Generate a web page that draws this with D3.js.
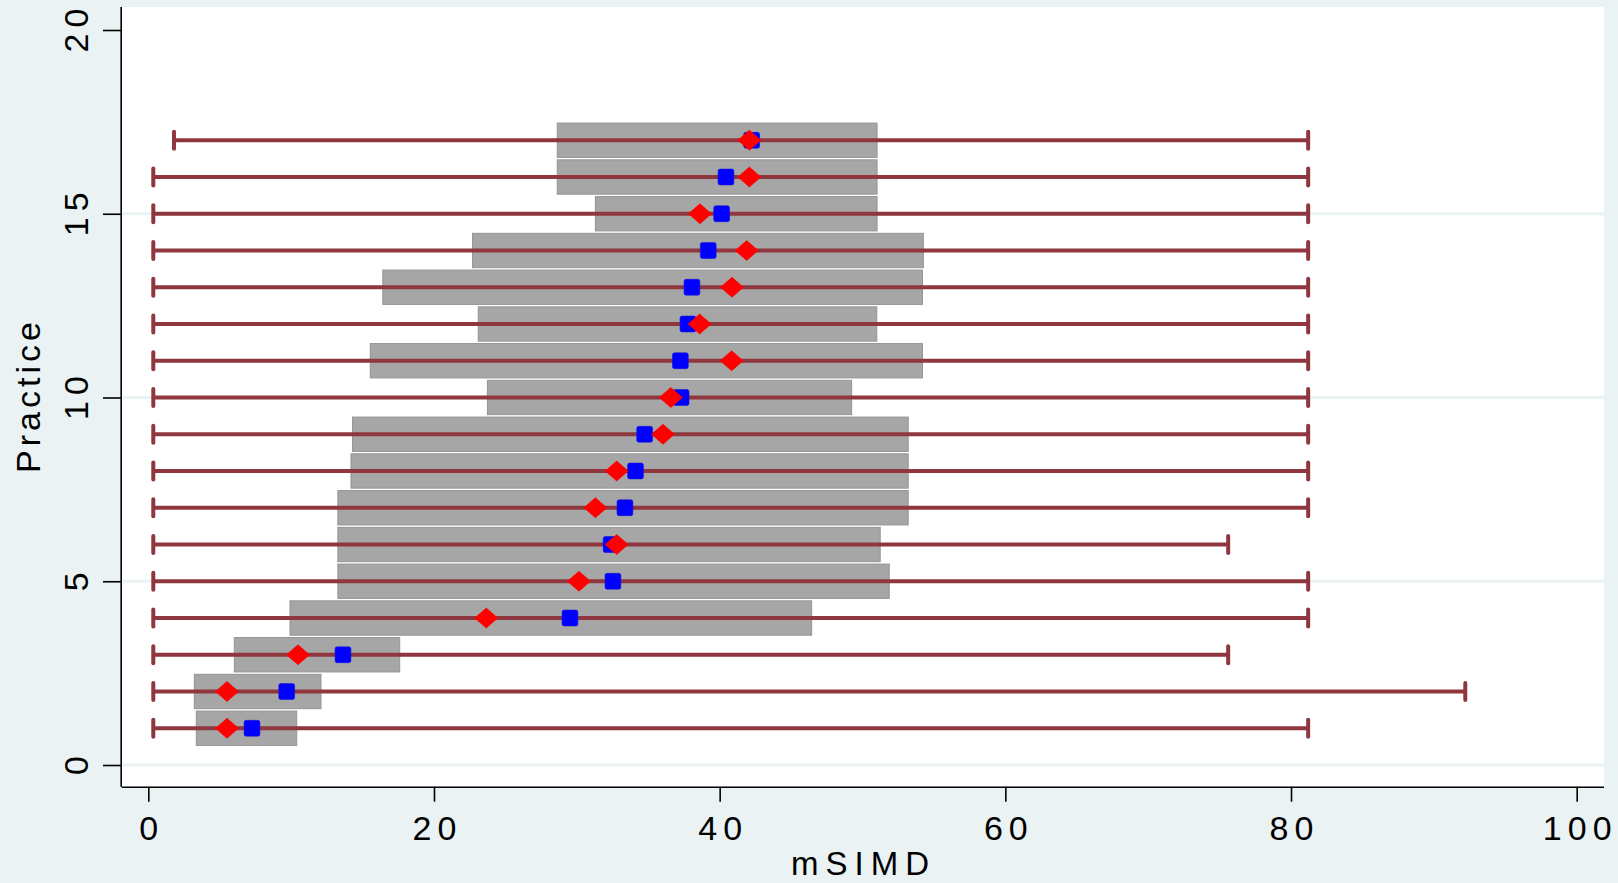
<!DOCTYPE html>
<html>
<head>
<meta charset="utf-8">
<script src="https://cdn.jsdelivr.net/npm/d3@7"></script>
<style>
  html, body { margin: 0; padding: 0; background: #EAF2F3; }
  svg { display: block; }
  text { font-family: "Liberation Sans", Arial, Helvetica, sans-serif; fill: #000; }
</style>
</head>
<body>
<svg id="chart" width="1618" height="883"></svg>
<script>
// ---- Data ----
const practice  = [1, 2, 3, 4, 5, 6, 7, 8, 9, 10, 11, 12, 13, 14, 15, 16, 17];
const barLow    = [3.36, 3.22, 6.02, 9.92, 13.27, 13.27, 13.27, 14.19, 14.30, 23.74, 15.54, 23.10, 16.42, 22.70, 31.30, 28.63, 28.63];
const barHigh   = [10.39, 12.09, 17.60, 46.44, 51.87, 51.24, 53.20, 53.20, 53.20, 49.24, 54.20, 51.00, 54.20, 54.26, 51.02, 51.02, 51.02];
const blueVal   = [7.26, 9.69, 13.63, 29.52, 32.53, 32.40, 33.37, 34.11, 34.75, 37.30, 37.25, 37.78, 38.06, 39.20, 40.14, 40.44, 42.24];
const redVal    = [5.51, 5.51, 10.48, 23.66, 30.15, 32.79, 31.30, 32.79, 36.03, 36.58, 40.84, 38.60, 40.86, 41.89, 38.62, 42.08, 42.08];
const rangeLow  = [0.35, 0.35, 0.35, 0.35, 0.35, 0.35, 0.35, 0.35, 0.35, 0.35, 0.35, 0.35, 0.35, 0.35, 0.35, 0.35, 1.80];
const rangeHigh = [81.2, 92.2, 75.6, 81.2, 81.2, 75.6, 81.2, 81.2, 81.2, 81.2, 81.2, 81.2, 81.2, 81.2, 81.2, 81.2, 81.2];
const xTicks = [0, 20, 40, 60, 80, 100];
const yTicks = [0, 5, 10, 15, 20];
const yGrid  = [0, 5, 10, 15];
const xTitle = "mSIMD";
const yTitle = "Practice";

const rows = practice.map((p, i) => ({
  p, lo: barLow[i], hi: barHigh[i], blue: blueVal[i], red: redVal[i],
  rmin: rangeLow[i], rmax: rangeHigh[i]
}));

// ---- Layout ----
const svg = d3.select("#chart");
const plotL = 121.7, plotR = 1604, plotT = 7, plotB = 786.7;
const x = d3.scaleLinear().domain([0, 100]).range([148.3, 1576.7]);
const y = d3.scaleLinear().domain([0, 20]).range([765, 30]);
const barH = Math.abs(y(0.935) - y(0));
const fs = 34, ls = 6;

svg.append("rect").attr("width", 1618).attr("height", 883).attr("fill", "#EAF2F3");
svg.append("rect")
  .attr("x", plotL).attr("y", plotT)
  .attr("width", plotR - plotL).attr("height", plotB - plotT)
  .attr("fill", "#FFFFFF");

// gridlines
svg.append("g").selectAll("line").data(yGrid).join("line")
  .attr("x1", plotL).attr("x2", plotR)
  .attr("y1", d => y(d)).attr("y2", d => y(d))
  .attr("stroke", "#EAF2F3").attr("stroke-width", 3.2);

// bars
svg.append("g").selectAll("rect").data(rows).join("rect")
  .attr("x", d => x(d.lo))
  .attr("width", d => x(d.hi) - x(d.lo))
  .attr("y", d => y(d.p) - barH / 2)
  .attr("height", barH)
  .attr("fill", "#A6A6A6")
  .attr("stroke", "#949494").attr("stroke-width", 1);

// range lines with caps
const lineCol = "#8F363E";
const lw = 4;
const rg = svg.append("g");
rg.selectAll("line.r").data(rows).join("line").attr("class", "r")
  .attr("x1", d => x(d.rmin)).attr("x2", d => x(d.rmax))
  .attr("y1", d => y(d.p)).attr("y2", d => y(d.p))
  .attr("stroke", lineCol).attr("stroke-width", lw);
rg.selectAll("line.c1").data(rows).join("line").attr("class", "c1")
  .attr("x1", d => x(d.rmin)).attr("x2", d => x(d.rmin))
  .attr("y1", d => y(d.p) - 8.5).attr("y2", d => y(d.p) + 8.5)
  .attr("stroke", lineCol).attr("stroke-width", lw).attr("stroke-linecap", "round");
rg.selectAll("line.c2").data(rows).join("line").attr("class", "c2")
  .attr("x1", d => x(d.rmax)).attr("x2", d => x(d.rmax))
  .attr("y1", d => y(d.p) - 8.5).attr("y2", d => y(d.p) + 8.5)
  .attr("stroke", lineCol).attr("stroke-width", lw).attr("stroke-linecap", "round");

// blue squares
const sq = 15.8;
svg.append("g").selectAll("rect").data(rows).join("rect")
  .attr("x", d => x(d.blue) - sq / 2).attr("y", d => y(d.p) - sq / 2)
  .attr("width", sq).attr("height", sq).attr("rx", 2).attr("ry", 2)
  .attr("fill", "#0000FF").attr("stroke", "#1010E0").attr("stroke-width", 0.6);

// red diamonds
const dw = 11.4, dh = 9.9;
svg.append("g").selectAll("path").data(rows).join("path")
  .attr("d", d => {
    const cx = x(d.red), cy = y(d.p);
    return `M${cx - dw},${cy} L${cx},${cy - dh} L${cx + dw},${cy} L${cx},${cy + dh} Z`;
  })
  .attr("fill", "#FF0000").attr("stroke", "#FF0000").attr("stroke-width", 0.8)
  .attr("stroke-linejoin", "round");

// x axis
const xa = svg.append("g").attr("transform", `translate(0,${plotB})`)
  .call(d3.axisBottom(x).tickValues(xTicks).tickSize(15).tickSizeOuter(0).tickFormat(d3.format("d")));
xa.select(".domain").attr("d", `M${plotL},0.5H${plotR}`).attr("stroke", "#000").attr("stroke-width", 1.6);
xa.selectAll(".tick line").attr("stroke", "#000").attr("stroke-width", 1.6);
xa.selectAll(".tick text")
  .attr("y", 53.3).attr("dy", 0).attr("dx", ls / 2)
  .style("font-size", fs + "px").style("letter-spacing", ls + "px")
  .style("font-family", '"Liberation Sans", Arial, sans-serif').attr("fill", "#000");

// y axis
const ya = svg.append("g").attr("transform", `translate(${plotL},0)`)
  .call(d3.axisLeft(y).tickValues(yTicks).tickSize(18.7).tickSizeOuter(0).tickFormat(d3.format("d")));
ya.select(".domain").attr("d", `M-0.5,${plotT}V${plotB}`).attr("stroke", "#000").attr("stroke-width", 1.6);
ya.selectAll(".tick line").attr("stroke", "#000").attr("stroke-width", 1.6);
ya.selectAll(".tick text")
  .attr("x", 0).attr("y", -33.4).attr("dy", 0).attr("dx", ls / 2)
  .attr("transform", "rotate(-90)")
  .attr("text-anchor", "middle")
  .style("font-size", fs + "px").style("letter-spacing", ls + "px")
  .style("font-family", '"Liberation Sans", Arial, sans-serif').attr("fill", "#000");

// axis titles
svg.append("text")
  .attr("x", 862 + 1.5).attr("y", 875)
  .attr("text-anchor", "middle")
  .style("font-size", "33px").style("letter-spacing", "7px")
  .text(xTitle);
svg.append("text")
  .attr("transform", "translate(40,397.5) rotate(-90)")
  .attr("x", 2).attr("text-anchor", "middle")
  .style("font-size", "34px").style("letter-spacing", "4px")
  .text(yTitle);
</script>
</body>
</html>
